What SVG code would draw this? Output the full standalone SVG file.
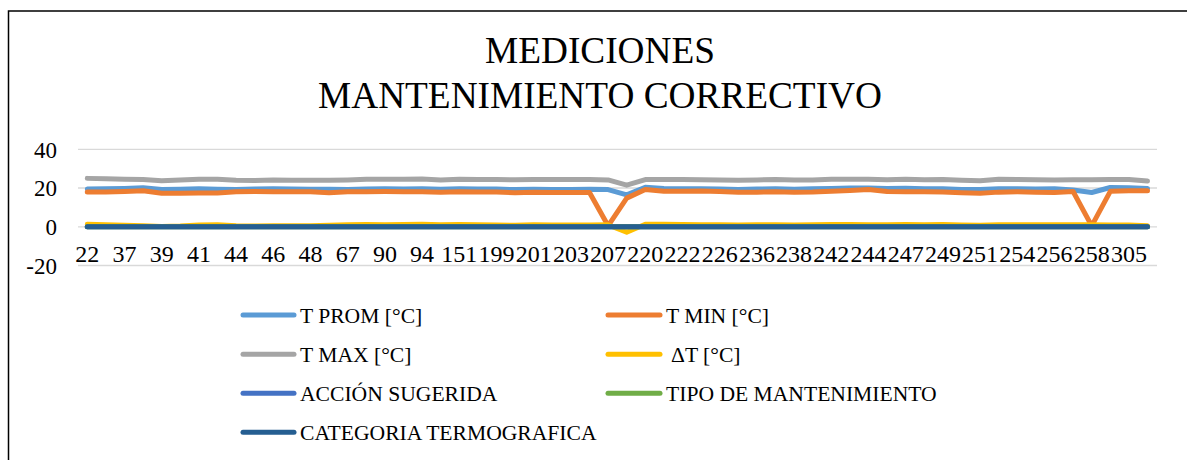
<svg xmlns="http://www.w3.org/2000/svg" width="1187" height="460" viewBox="0 0 1187 460">
<style>
text{font-family:"Liberation Serif","Times New Roman",serif;fill:#000}
.title{font-size:37.3px;text-anchor:middle}
.ylab{font-size:23px;text-anchor:end}
.xlab{font-size:24px;text-anchor:middle}
.leg{font-size:21.6px}
.grid{stroke:#D9D9D9;stroke-width:1.3}
.s{fill:none;stroke-width:5;stroke-linecap:round;stroke-linejoin:round;vector-effect:non-scaling-stroke}
.ls{fill:none;stroke-width:5;stroke-linecap:round}
.prom{stroke:#5B9BD5}.min{stroke:#ED7D31}.max{stroke:#A5A5A5}.dt{stroke:#FFC000}
.acc{stroke:#4472C4}.tipo{stroke:#70AD47}.cat{stroke:#255E91}
</style>
<rect width="1187" height="460" fill="#fff"/>
<path d="M8.5,460 V11 H1187" fill="none" stroke="#000" stroke-width="1.5"/>
<g id="title">
<text class="title" x="600" y="63">MEDICIONES</text>
<text class="title" x="600" y="108">MANTENIMIENTO CORRECTIVO</text>
</g>
<g id="gridlines">
<line class="grid" x1="78" y1="149.3" x2="1157" y2="149.3"/>
<line class="grid" x1="78" y1="188" x2="1157" y2="188"/>
<line class="grid" x1="78" y1="226.8" x2="1157" y2="226.8"/>
<line class="grid" x1="78" y1="265.5" x2="1157" y2="265.5"/>
</g>
<g id="y-axis">
<text class="ylab" x="57" y="157.5">40</text>
<text class="ylab" x="57" y="196.2">20</text>
<text class="ylab" x="57" y="235">0</text>
<text class="ylab" x="57" y="273.7">-20</text>
</g>
<g id="x-axis">
<text class="xlab" x="87.3" y="262">22</text>
<text class="xlab" x="124.5" y="262">37</text>
<text class="xlab" x="161.7" y="262">39</text>
<text class="xlab" x="198.9" y="262">41</text>
<text class="xlab" x="236.1" y="262">44</text>
<text class="xlab" x="273.3" y="262">46</text>
<text class="xlab" x="310.5" y="262">48</text>
<text class="xlab" x="347.7" y="262">67</text>
<text class="xlab" x="384.9" y="262">90</text>
<text class="xlab" x="422.1" y="262">94</text>
<text class="xlab" x="459.3" y="262">151</text>
<text class="xlab" x="496.5" y="262">199</text>
<text class="xlab" x="533.7" y="262">201</text>
<text class="xlab" x="570.9" y="262">203</text>
<text class="xlab" x="608.1" y="262">207</text>
<text class="xlab" x="645.3" y="262">220</text>
<text class="xlab" x="682.5" y="262">222</text>
<text class="xlab" x="719.7" y="262">226</text>
<text class="xlab" x="756.9" y="262">236</text>
<text class="xlab" x="794.1" y="262">238</text>
<text class="xlab" x="831.3" y="262">242</text>
<text class="xlab" x="868.5" y="262">244</text>
<text class="xlab" x="905.7" y="262">247</text>
<text class="xlab" x="942.9" y="262">249</text>
<text class="xlab" x="980.1" y="262">251</text>
<text class="xlab" x="1017.3" y="262">254</text>
<text class="xlab" x="1054.5" y="262">256</text>
<text class="xlab" x="1091.7" y="262">258</text>
<text class="xlab" x="1128.9" y="262">305</text>
</g>
<g id="connectors" transform="translate(87.3,226.8) scale(18.6,-1.937)">
<polyline id="s-prom" class="s prom" points="0,19.5 1,19.6 2,19.8 3,20.2 4,19.2 5,19.4 6,19.6 7,19.4 8,19.2 9,19.5 10,19.6 11,19.5 12,19.4 13,19.4 14,19.2 15,19.5 16,19.6 17,19.5 18,19.6 19,19.4 20,19.6 21,19.5 22,19.5 23,19.2 24,19.4 25,19.3 26,19.3 27,19.4 28,19.2 29,16.5 30,20.4 31,19.8 32,19.6 33,19.7 34,19.5 35,19.3 36,19.5 37,19.6 38,19.4 39,19.6 40,19.8 41,20 42,20 43,19.8 44,19.9 45,19.7 46,19.6 47,19.3 48,19.2 49,19.6 50,19.6 51,19.5 52,19.6 53,19 54,17.7 55,20.3 56,20.2 57,19.8"/>
<polyline id="s-min" class="s min" points="0,18 1,18 2,18.2 3,18.6 4,17.3 5,17.3 6,17.4 7,17.5 8,18.1 9,18.2 10,18.1 11,18.1 12,18.1 13,17.6 14,18.1 15,18.1 16,18.2 17,18.1 18,18.1 19,17.8 20,18.1 21,18 22,18 23,17.6 24,17.8 25,17.7 26,17.7 27,17.7 28,0.5 29,14.8 30,19.3 31,18.4 32,18.3 33,18.5 34,18.2 35,17.9 36,17.9 37,18.1 38,17.9 39,18 40,18.4 41,18.8 42,19.3 43,18.2 44,18.1 45,18.1 46,18 47,17.6 48,17.3 49,17.9 50,18.1 51,17.8 52,17.7 53,18.2 54,0.5 55,18.3 56,18.6 57,18.6"/>
<polyline id="s-max" class="s max" points="0,25 1,24.8 2,24.6 3,24.4 4,23.8 5,24.2 6,24.6 7,24.5 8,24 9,23.9 10,24.2 11,24 12,24 13,24 14,24.2 15,24.6 16,24.5 17,24.6 18,24.7 19,24.2 20,24.6 21,24.4 22,24.4 23,24.3 24,24.4 25,24.4 26,24.4 27,24.4 28,24.2 29,21.5 30,24.4 31,24.4 32,24.4 33,24.3 34,24.1 35,24 36,24.2 37,24.4 38,24.1 39,24.2 40,24.5 41,24.5 42,24.5 43,24.3 44,24.6 45,24.3 46,24.4 47,24 48,23.8 49,24.5 50,24.4 51,24.3 52,24.2 53,24.3 54,24.3 55,24.4 56,24.4 57,23.6"/>
<polyline id="s-dt" class="s dt" points="0,1.3 1,1 2,0.8 3,0.6 4,0.2 5,0.4 6,0.9 7,1 8,0.5 9,0.4 10,0.6 11,0.5 12,0.6 13,0.8 14,1 15,1.2 16,1 17,1.2 18,1.3 19,1 20,1.2 21,1 22,0.9 23,0.8 24,1 25,0.9 26,0.9 27,0.9 28,1 29,-2.8 30,1.3 31,1.3 32,1.2 33,1.1 34,1 35,0.9 36,1 37,1.1 38,0.9 39,1 40,1.2 41,1.2 42,1.1 43,1 44,1.2 45,1.1 46,1.2 47,0.9 48,0.8 49,1.1 50,1 51,1 52,1 53,1.1 54,1 55,0.9 56,0.9 57,0.6"/>
<polyline id="s-acc" class="s acc" points="0,0 57,0"/>
<polyline id="s-tipo" class="s tipo" points="0,0 57,0"/>
<polyline id="s-cat" class="s cat" points="0,0 57,0"/>
</g>
<g id="legend">
<g id="leg-prom"><line class="ls prom" x1="243" y1="315" x2="294" y2="315"/><text class="leg" x="300" y="322.5">T PROM [°C]</text></g>
<g id="leg-min"><line class="ls min" x1="608" y1="315" x2="660" y2="315"/><text class="leg" x="666" y="322.5">T MIN [°C]</text></g>
<g id="leg-max"><line class="ls max" x1="243" y1="354.3" x2="294" y2="354.3"/><text class="leg" x="300" y="361.8">T MAX [°C]</text></g>
<g id="leg-dt"><line class="ls dt" x1="608" y1="354.3" x2="660" y2="354.3"/><text class="leg" x="671" y="361.8">ΔT [°C]</text></g>
<g id="leg-acc"><line class="ls acc" x1="243" y1="393.3" x2="294" y2="393.3"/><text class="leg" x="300" y="400.8">ACCIÓN SUGERIDA</text></g>
<g id="leg-tipo"><line class="ls tipo" x1="608" y1="393.3" x2="660" y2="393.3"/><text class="leg" x="666" y="400.8">TIPO DE MANTENIMIENTO</text></g>
<g id="leg-cat"><line class="ls cat" x1="243" y1="432.3" x2="294" y2="432.3"/><text class="leg" x="300" y="439.8">CATEGORIA TERMOGRAFICA</text></g>
</g>
</svg>
